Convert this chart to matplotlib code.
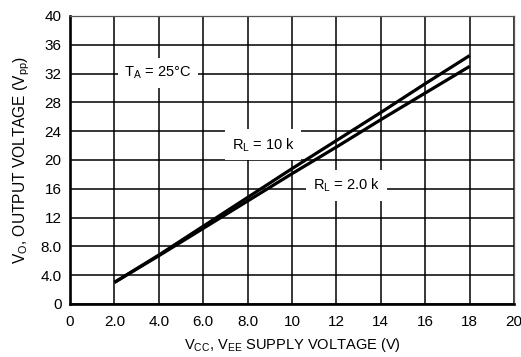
import matplotlib
matplotlib.use('Agg')
import matplotlib.pyplot as plt
import numpy as np

# Output swing vs. supply voltage for two load resistances
supply_v = [2.0, 4.0, 6.0, 8.0, 10.0, 12.0, 14.0, 16.0, 18.0]
vout_10k = [3.0, 6.8, 10.8, 14.8, 18.8, 22.7, 26.6, 30.6, 34.5]
vout_2k = [3.0, 6.7, 10.5, 14.3, 18.1, 21.8, 25.6, 29.3, 33.0]

x_ticks = [0, 2, 4, 6, 8, 10, 12, 14, 16, 18, 20]
x_tick_labels = ['0', '2.0', '4.0', '6.0', '8.0', '10', '12', '14', '16', '18', '20']
y_ticks = [0, 4, 8, 12, 16, 20, 24, 28, 32, 36, 40]
y_tick_labels = ['0', '4.0', '8.0', '12', '16', '20', '24', '28', '32', '36', '40']

plt.rcParams['font.family'] = ['Liberation Sans', 'DejaVu Sans']
plt.rcParams['font.size'] = 10.5

fig = plt.figure(figsize=(5.21, 3.57), dpi=100)
ax = fig.add_axes([0.1344, 0.1485, 0.8522, 0.8067])

ax.plot(supply_v, vout_10k, color='black', lw=2.3, solid_capstyle='butt', zorder=3)
ax.plot(supply_v, vout_2k, color='black', lw=2.3, solid_capstyle='butt', zorder=3)

ax.set_xlim(0, 20)
ax.set_ylim(0, 40)
ax.set_xticks(x_ticks)
ax.set_xticklabels(x_tick_labels)
ax.set_yticks(y_ticks)
ax.set_yticklabels(y_tick_labels)
ax.tick_params(axis='x', length=0, pad=8, labelsize=11)
ax.tick_params(axis='y', length=0, pad=6, labelsize=11)
ax.grid(True, color='black', lw=1.1, zorder=1)
ax.set_axisbelow(True)

for side in ['left', 'bottom']:
    ax.spines[side].set_linewidth(1.9)
for side in ['top', 'right']:
    ax.spines[side].set_linewidth(0.9)
    ax.spines[side].set_color('#555555')

ax.set_xlabel(r'V$_\mathregular{CC}$, V$_\mathregular{EE}$ SUPPLY VOLTAGE (V)', labelpad=5)
ax.set_ylabel(r'V$_\mathregular{O}$, OUTPUT VOLTAGE (V$_\mathregular{pp}$)', labelpad=6,
              fontsize=11.2)

box = dict(boxstyle='square,pad=0.45', facecolor='white', edgecolor='none')
ax.text(3.95, 32.1, r'T$_\mathregular{A}$ = 25°C', ha='center', va='center',
        bbox=box, zorder=2)
ax.text(8.7, 22.1, r'R$_\mathregular{L}$ = 10 k', ha='center', va='center',
        bbox=box, zorder=2)
ax.text(12.45, 16.5, r'R$_\mathregular{L}$ = 2.0 k', ha='center', va='center',
        bbox=box, zorder=2)

fig.savefig('out.png', dpi=100)
